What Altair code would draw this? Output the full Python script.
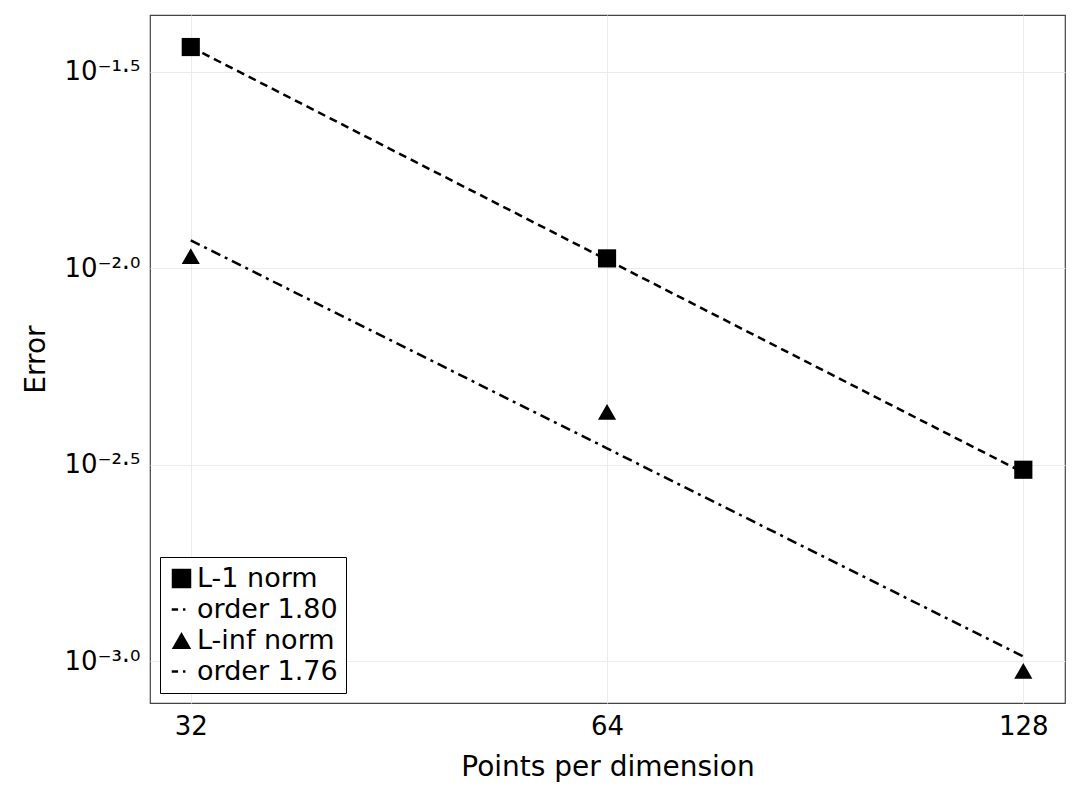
import altair as alt
import pandas as pd

points = [32, 64, 128]
l1_err = [0.0366, 0.0106, 0.00307]
linf_err = [0.01074, 0.00431, 0.000944]
fit1 = [0.0366, 0.01051, 0.00302]
fit2 = [0.01178, 0.00348, 0.001027]

names = ["L-1 norm", "order 1.80", "L-inf norm", "order 1.76"]
shapes = [
    "square",
    "M-1,-0.12H-0.35V0.12H-1Z M0.15,-0.12H0.4V0.12H0.15Z",
    "triangle-up",
    "M-1,-0.12H-0.35V0.12H-1Z M0.15,-0.12H0.4V0.12H0.15Z",
]

pts = pd.DataFrame({
    "n": points * 2,
    "err": l1_err + linf_err,
    "series": [names[0]] * 3 + [names[2]] * 3,
})
fits = pd.DataFrame({
    "n": points * 2,
    "err": fit1 + fit2,
    "series": [names[1]] * 3 + [names[3]] * 3,
})

x = alt.X("n:Q", scale=alt.Scale(type="log", base=2, domain=[29.9, 137.2], nice=False),
          axis=alt.Axis(values=points, title="Points per dimension", format="d"))
yticks = [10 ** -3, 10 ** -2.5, 10 ** -2, 10 ** -1.5]
y = alt.Y("err:Q", scale=alt.Scale(type="log", domain=[0.000782, 0.04416], nice=False),
          axis=alt.Axis(values=yticks, title="Error",
                        labelExpr="datum.value < 0.002 ? '10⁻³·⁰' : datum.value < 0.005 ? '10⁻²·⁵' : datum.value < 0.02 ? '10⁻²·⁰' : '10⁻¹·⁵'"))

lines = alt.Chart(fits).mark_line(color="black", strokeWidth=2.5).encode(
    x=x, y=y, detail="series:N",
    strokeDash=alt.StrokeDash("series:N", legend=None,
                              scale=alt.Scale(domain=[names[1], names[3]], range=[[8, 5], [10, 5, 3, 5]])),
)

marks = alt.Chart(pts).mark_point(filled=True, color="black", opacity=1, size=330).encode(
    x=x, y=y,
    shape=alt.Shape("series:N", scale=alt.Scale(domain=names, range=shapes),
                    legend=alt.Legend(title=None, orient="bottom-left", fillColor="white",
                                      strokeColor="black", padding=8, offset=10,
                                      labelFontSize=27, symbolSize=380, symbolFillColor="black",
                                      symbolStrokeColor="black", symbolStrokeWidth=0,
                                      labelFont="DejaVu Sans", rowPadding=3, symbolOffset=0,
                                      labelOffset=2)),
)

chart = alt.layer(lines, marks).properties(
    width=915, height=688, autosize=alt.AutoSizeParams(type="none"),
    padding={"left": 142, "top": 7, "right": 9, "bottom": 89},
).configure_view(stroke="#444444", strokeWidth=1.2).configure_axis(
    grid=True, gridColor="#ebebeb", ticks=False, domain=False, labelFont="DejaVu Sans",
    titleFont="DejaVu Sans", labelFontSize=26, titleFontSize=28, titleFontWeight="normal",
    labelColor="black", titleColor="black", labelPadding=10, titlePadding=14,
)

chart.save("out.html", embed_options={"renderer": "svg", "actions": False})
